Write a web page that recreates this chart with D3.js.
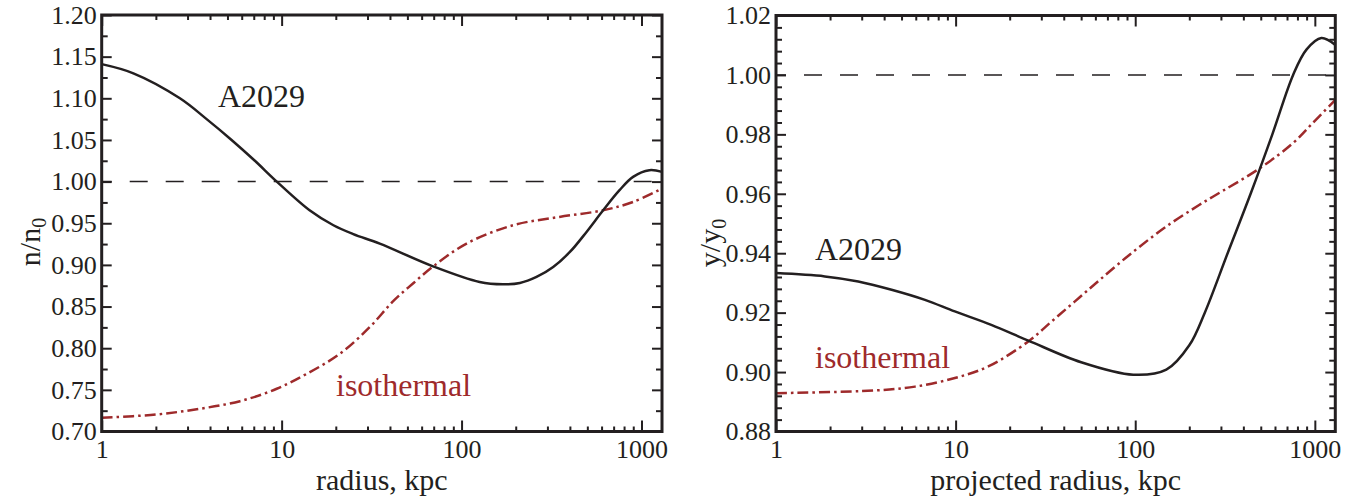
<!DOCTYPE html>
<html>
<head>
<meta charset="utf-8">
<script src="https://cdn.jsdelivr.net/npm/d3@7"></script>
<style>
  body { margin: 0; background: #fff; }
  .tick line { stroke: #231f20; stroke-width: 2px; }
</style>
</head>
<body>
<svg id="chart" width="1355" height="502"></svg>
<script>
// values

// left panel: n/n0 against radius
const leftA2029R = [1, 1.5, 2.72, 3.83, 5.27, 7.1, 9.4, 14.3, 19.4, 25, 35.1, 69.4, 126, 170, 211, 261, 323, 400, 495, 612, 755, 898, 1106, 1300];
const leftA2029V = [1.141, 1.130, 1.100, 1.075, 1.050, 1.025, 1.000, 0.9656, 0.9476, 0.937, 0.9256, 0.8983, 0.8795, 0.8767, 0.8783, 0.8855, 0.8975, 0.9155, 0.9396, 0.9656, 0.9897, 1.0057, 1.0137, 1.0117];
const leftIsoR = [1, 2.0, 3.52, 5.87, 9.39, 13.8, 21.1, 30.9, 41.7, 53.9, 69.4, 106.6, 193, 350, 612, 898, 1300];
const leftIsoV = [0.7165, 0.7204, 0.7273, 0.7364, 0.7513, 0.7693, 0.7934, 0.8254, 0.8565, 0.878, 0.898, 0.9256, 0.9476, 0.9576, 0.9656, 0.9756, 0.9917];
const leftYTicks = [0.70, 0.75, 0.80, 0.85, 0.90, 0.95, 1.00, 1.05, 1.10, 1.15, 1.20];

// right panel: y/y0 against projected radius
const rightA2029R = [1, 1.87, 2.87, 4.4, 6.75, 9.9, 15.8, 25.4, 50, 97.5, 149, 200, 244, 327, 439, 580, 757, 898, 1087, 1300];
const rightA2029V = [0.9333, 0.9322, 0.9305, 0.9277, 0.9243, 0.9204, 0.9159, 0.9106, 0.9033, 0.8991, 0.9008, 0.909, 0.920, 0.940, 0.960, 0.980, 1.000, 1.0085, 1.0124, 1.0101];
const rightIsoR = [1, 3.55, 5.94, 9.9, 15.2, 25.4, 34.2, 46, 63.4, 97.5, 149, 228, 272, 494, 757, 973, 1300];
const rightIsoV = [0.8929, 0.8938, 0.8951, 0.8980, 0.9019, 0.9103, 0.9170, 0.9237, 0.931, 0.9405, 0.9490, 0.9563, 0.9591, 0.9686, 0.9771, 0.9838, 0.9916];
const rightYTicks = [0.88, 0.90, 0.92, 0.94, 0.96, 0.98, 1.00, 1.02];

const xTicks = [1, 10, 100, 1000];
const xMinor = [2,3,4,5,6,7,8,9,20,30,40,50,60,70,80,90,200,300,400,500,600,700,800,900];

const ink = "#231f20", red = "#9e2a2b";
const serif = "'Liberation Serif', 'DejaVu Serif', serif";
const svg = d3.select("#chart");

function drawPanel(p) {
  const x = d3.scaleLog().domain([1, 1300]).range([p.left, p.right]);
  const y = d3.scaleLinear().domain([p.yTicks[0], p.yTicks[p.yTicks.length - 1]]).range([p.bottom, p.top]);
  const step = p.yTicks[1] - p.yTicks[0];
  const yMinor = [];
  p.yTicks.slice(0, -1).forEach(t => {
    for (let k = 1; k < p.nMinor + 1; k++) yMinor.push(t + step * k / (p.nMinor + 1));
  });
  const g = svg.append("g");

  // ticks, all pointing inward
  g.append("g").attr("transform", `translate(0,${p.bottom})`)
    .call(d3.axisBottom(x).tickValues(xTicks).tickFormat(d3.format("d")).tickSize(-11).tickPadding(8));
  g.append("g").attr("transform", `translate(0,${p.bottom})`)
    .call(d3.axisBottom(x).tickValues(xMinor).tickFormat("").tickSize(-5));
  g.append("g").attr("transform", `translate(0,${p.top})`)
    .call(d3.axisTop(x).tickValues(xTicks).tickFormat("").tickSize(-11));
  g.append("g").attr("transform", `translate(0,${p.top})`)
    .call(d3.axisTop(x).tickValues(xMinor).tickFormat("").tickSize(-5));
  g.append("g").attr("transform", `translate(${p.left},0)`)
    .call(d3.axisLeft(y).tickValues(p.yTicks).tickFormat(d3.format(".2f")).tickSize(-10).tickPadding(5));
  g.append("g").attr("transform", `translate(${p.left},0)`)
    .call(d3.axisLeft(y).tickValues(yMinor).tickFormat("").tickSize(-6));
  g.append("g").attr("transform", `translate(${p.right},0)`)
    .call(d3.axisRight(y).tickValues(p.yTicks).tickFormat("").tickSize(-10));
  g.append("g").attr("transform", `translate(${p.right},0)`)
    .call(d3.axisRight(y).tickValues(yMinor).tickFormat("").tickSize(-6));
  g.selectAll(".domain").remove();
  g.selectAll("g").attr("font-family", null);
  g.selectAll(".tick text")
    .style("font-family", serif).style("font-size", "26px").attr("fill", ink);

  // reference line at 1
  g.append("line")
    .attr("x1", p.left).attr("x2", p.right)
    .attr("y1", y(1)).attr("y2", y(1))
    .attr("stroke", ink).attr("stroke-width", 1.5)
    .attr("stroke-dasharray", "18,18").attr("stroke-dashoffset", 8);

  const line = d3.line().x(d => x(d[0])).y(d => y(d[1])).curve(d3.curveCatmullRom.alpha(0.5));

  g.append("path")
    .datum(d3.zip(p.isoR, p.isoV))
    .attr("d", line)
    .attr("fill", "none").attr("stroke", red).attr("stroke-width", 2.5)
    .attr("stroke-dasharray", "11,4,2.5,4");

  g.append("path")
    .datum(d3.zip(p.aR, p.aV))
    .attr("d", line)
    .attr("fill", "none").attr("stroke", ink).attr("stroke-width", 2.5);

  // frame
  g.append("rect")
    .attr("x", p.left).attr("y", p.top)
    .attr("width", p.right - p.left).attr("height", p.bottom - p.top)
    .attr("fill", "none").attr("stroke", ink).attr("stroke-width", 3);

  // annotations
  g.append("text").attr("x", p.aLabel[0]).attr("y", p.aLabel[1])
    .style("font-family", serif).style("font-size", "32px").style("fill", ink).text("A2029");
  g.append("text").attr("x", p.isoLabel[0]).attr("y", p.isoLabel[1])
    .style("font-family", serif).style("font-size", "32px").style("fill", red).text("isothermal");

  // axis titles
  g.append("text")
    .attr("x", (p.left + p.right) / 2).attr("y", 490)
    .attr("text-anchor", "middle")
    .style("font-family", serif).style("font-size", "30px").style("fill", ink)
    .text(p.xTitle);

  const yt = g.append("text")
    .attr("transform", `translate(${p.yTitleX},${p.yTitleY}) rotate(-90)`)
    .attr("text-anchor", "middle")
    .style("font-family", serif).style("font-size", "30px").style("fill", ink);
  yt.append("tspan").text(p.yTitle[0]);
  yt.append("tspan").attr("dy", 6).style("font-size", "20px").text(p.yTitle[1]);
}

drawPanel({
  left: 101.7, right: 662, top: 15, bottom: 431.5,
  yTicks: leftYTicks, nMinor: 1,
  aR: leftA2029R, aV: leftA2029V, isoR: leftIsoR, isoV: leftIsoV,
  aLabel: [218, 107], isoLabel: [336, 396],
  xTitle: "radius, kpc", yTitle: ["n/n", "0"], yTitleX: 40, yTitleY: 242
});

drawPanel({
  left: 776, right: 1335.3, top: 15.5, bottom: 431.5,
  yTicks: rightYTicks, nMinor: 4,
  aR: rightA2029R, aV: rightA2029V, isoR: rightIsoR, isoV: rightIsoV,
  aLabel: [815, 260], isoLabel: [815, 368],
  xTitle: "projected radius, kpc", yTitle: ["y/y", "0"], yTitleX: 720, yTitleY: 243
});
</script>
</body>
</html>
